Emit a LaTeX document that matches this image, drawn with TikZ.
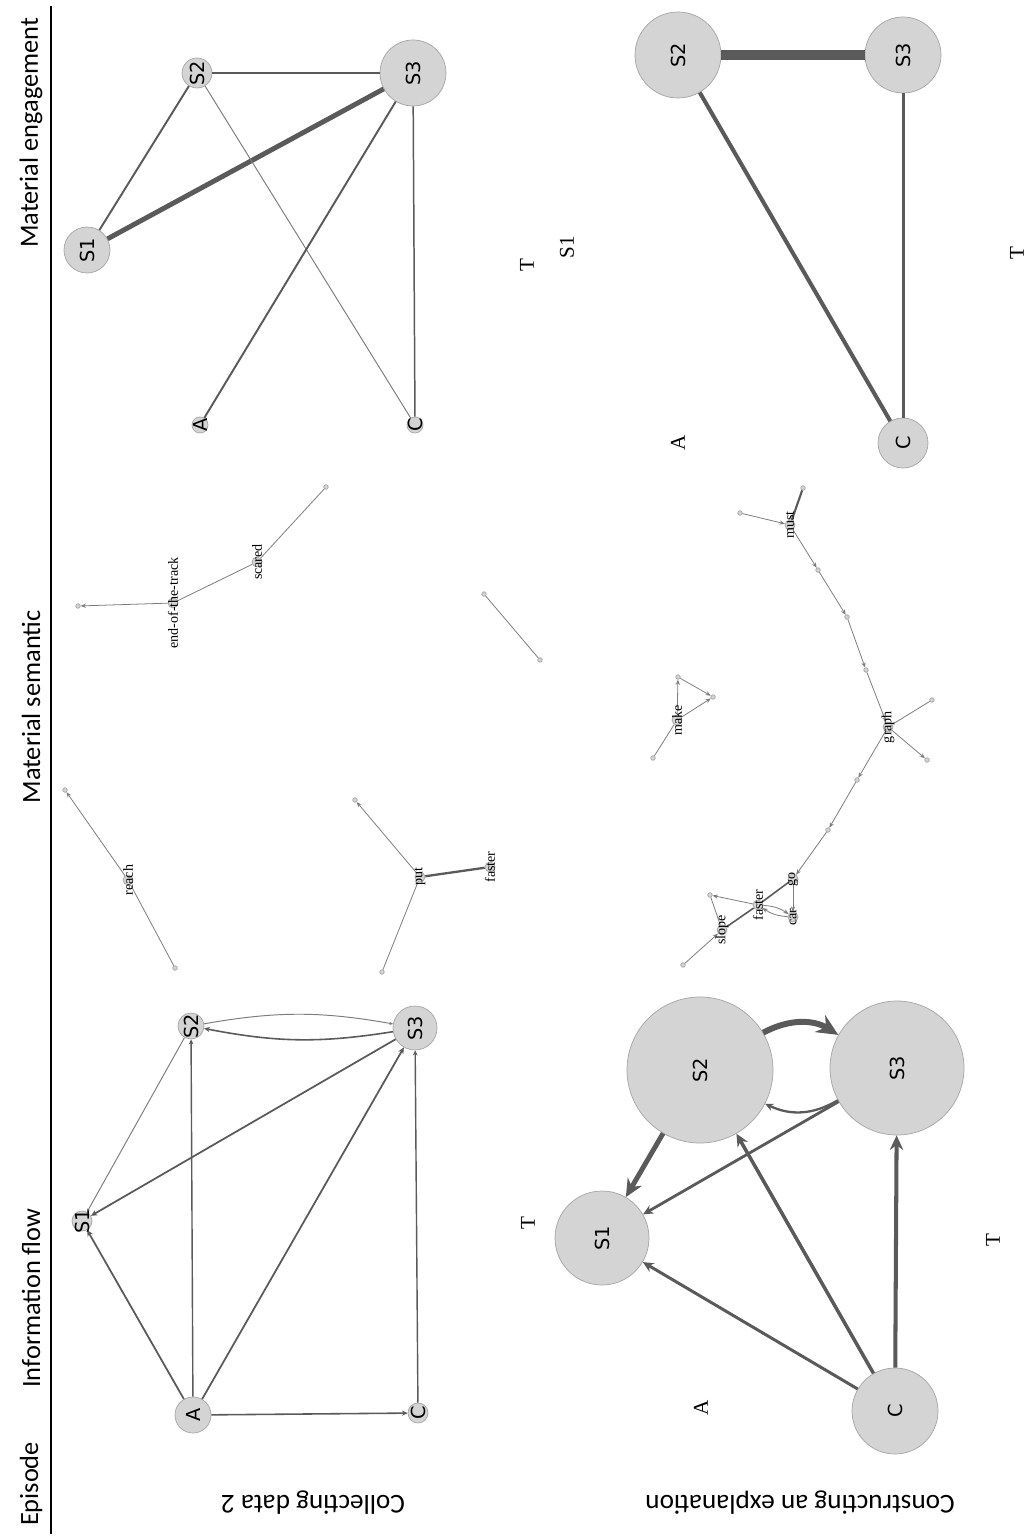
\documentclass[tikz,border=0pt]{standalone}
\usepackage{fontspec}
\setmainfont{Liberation Serif}
\newfontfamily\headfont{Carlito}
\newfontfamily\nodefont{DejaVu Sans}
\usetikzlibrary{arrows.meta}

\definecolor{nodefill}{RGB}{212,212,212}
\definecolor{nodeline}{RGB}{165,165,165}
\definecolor{edgecol}{RGB}{90,90,90}
\definecolor{thincol}{RGB}{125,125,125}

\tikzset{
	person/.style={circle, draw=nodeline, fill=nodefill, inner sep=0pt, minimum size={2*#1*0.02cm}},
	plabel/.style={rotate=90, inner sep=0pt, font=\nodefont\fontsize{11}{11}\selectfont},
	actor/.style={rotate=90, inner sep=1pt, font=\fontsize{12}{12}\selectfont},
	word/.style={circle, draw=nodeline, fill=nodefill, inner sep=0pt, minimum size=0.2cm},
	wlabel/.style={rotate=90, inner sep=0pt, font=\fontsize{8}{8}\selectfont},
	dot/.style={circle, draw=nodeline, fill=nodefill, inner sep=0pt, minimum size=0.09cm},
	flow/.style={draw=edgecol, line width=#1, -{Stealth[length=0pt 3.6, width=0pt 3.3]}},
	tie/.style={draw=edgecol, line width=#1},
	link/.style={draw=thincol, line width=0.45pt, -{Stealth[length=3pt, width=2.4pt]}},
	plain/.style={draw=thincol, line width=0.45pt},
	head/.style={rotate=90, inner sep=0pt, font=\headfont\fontsize{15}{15}\selectfont},
	episode/.style={rotate=180, inner sep=0pt, font=\headfont\fontsize{15.5}{15.5}\selectfont}
}

\begin{document}
\begin{tikzpicture}[x=0.02cm, y=-0.02cm]
	\useasboundingbox[fill=white] (0,0) rectangle (1033,1540);

	%Header column
	\draw[line width=1pt] (51,6) coordinate (rtop) -- (51,1534) coordinate (rbot);
	\node[head] (hep) at (31,1484) {Episode};
	\node[head] (hif) at (31,1298) {Information flow};
	\node[head] (hms) at (31,707) {Material semantic};
	\node[head] (hme) at (31,133) {Material engagement};

	%Episode labels
	\node[episode] (ecol) at (313,1503) {Collecting data 2};
	\node[episode] (econ) at (800,1503) {Constructing an explanation};

	%Information flow, collecting data 2
	\node[person=10] (ia-s1) at (82,1221) {};
	\node[person=13] (ia-s2) at (191,1026) {};
	\node[person=22] (ia-s3) at (415,1028) {};
	\node[person=18] (ia-a) at (193,1415) {};
	\node[person=10] (ia-c) at (418,1413) {};
	\draw[flow=0.55pt, draw=thincol] (ia-s2) -- (ia-s1);
	\draw[flow=1pt] (ia-s3) -- (ia-s1);
	\draw[flow=1pt] (ia-a) -- (ia-s1);
	\draw[flow=0.8pt] (ia-a) -- (ia-s2);
	\draw[flow=1pt] (ia-a) -- (ia-s3);
	\draw[flow=0.8pt] (ia-c) -- (ia-s3);
	\draw[flow=0.9pt] (ia-a) -- (ia-c);
	\draw[flow=0.55pt, draw=thincol] (ia-s2) to[bend left=10] (ia-s3);
	\draw[flow=0.9pt] (ia-s3) to[bend left=10] (ia-s2);
	\node[plabel] (ia-s1t) at (ia-s1) {S1};
	\node[plabel] (ia-s2t) at (ia-s2) {S2};
	\node[plabel] (ia-s3t) at (ia-s3) {S3};
	\node[plabel] (ia-at) at (ia-a) {A};
	\node[plabel] (ia-ct) at (ia-c) {C};

	%Information flow, constructing an explanation
	\node[person=47] (ib-s1) at (602,1238) {};
	\node[person=73] (ib-s2) at (700,1070) {};
	\node[person=67] (ib-s3) at (897,1068) {};
	\node[person=43] (ib-c) at (895,1411) {};
	\draw[flow=3.4pt] (ib-s2) to[bend left=30] (ib-s3);
	\draw[flow=1.3pt] (ib-s3) to[bend left=28] (ib-s2);
	\draw[flow=2.8pt] (ib-s2) -- (ib-s1);
	\draw[flow=1.6pt] (ib-s3) -- (ib-s1);
	\draw[flow=1.7pt] (ib-c) -- (ib-s1);
	\draw[flow=2pt] (ib-c) -- (ib-s2);
	\draw[flow=2.3pt] (ib-c) -- (ib-s3);
	\node[plabel] (ib-s1t) at (ib-s1) {S1};
	\node[plabel] (ib-s2t) at (ib-s2) {S2};
	\node[plabel] (ib-s3t) at (ib-s3) {S3};
	\node[plabel] (ib-ct) at (ib-c) {C};
	\node[actor] (ib-t1) at (528,1223) {T};
	\node[actor] (ib-t2) at (993,1240) {T};
	\node[actor] (ib-a) at (701,1408) {A};

	%Material semantic, collecting data 2
	\node[word] (sa-eot) at (173,603) {};
	\node[dot] (sa-e1) at (78,606) {};
	\node[word] (sa-scd) at (257,562) {};
	\node[dot] (sa-e2) at (326,487) {};
	\node[dot] (sa-i1) at (484,594) {};
	\node[dot] (sa-i2) at (540,660) {};
	\node[word] (sa-rch) at (128,880) {};
	\node[dot] (sa-r1) at (65,790) {};
	\node[dot] (sa-r2) at (175,968) {};
	\node[word] (sa-put) at (420,877) {};
	\node[dot] (sa-p1) at (355,800) {};
	\node[dot] (sa-p2) at (382,972) {};
	\node[word] (sa-fst) at (490,867) {};
	\draw[link] (sa-eot) -- (sa-e1);
	\draw[plain] (sa-eot) -- (sa-scd);
	\draw[plain] (sa-scd) -- (sa-e2);
	\draw[plain] (sa-i1) -- (sa-i2);
	\draw[link] (sa-rch) -- (sa-r1);
	\draw[plain] (sa-rch) -- (sa-r2);
	\draw[link] (sa-put) -- (sa-p1);
	\draw[plain] (sa-put) -- (sa-p2);
	\draw[tie=1.3pt] (sa-put) -- (sa-fst);
	\node[wlabel] (sa-eott) at (sa-eot) {end-of-the-track};
	\node[wlabel] (sa-scdt) at (sa-scd) {scared};
	\node[wlabel] (sa-rcht) at (sa-rch) {reach};
	\node[wlabel] (sa-putt) at (sa-put) {put};
	\node[wlabel] (sa-fstt) at (sa-fst) {faster};

	%Material semantic, constructing an explanation
	\node[word] (sb-must) at (790,525) {};
	\node[dot] (sb-m1) at (740,513) {};
	\node[dot] (sb-m2) at (803,488) {};
	\node[dot] (sb-c1) at (818,570) {};
	\node[dot] (sb-c2) at (847,617) {};
	\node[dot] (sb-c3) at (866,670) {};
	\node[word] (sb-grp) at (888,727) {};
	\node[dot] (sb-g1) at (932,700) {};
	\node[dot] (sb-g2) at (927,760) {};
	\node[dot] (sb-d1) at (857,780) {};
	\node[dot] (sb-d2) at (828,830) {};
	\node[word] (sb-go) at (793,879) {};
	\node[word] (sb-car) at (793,917) {};
	\node[word] (sb-fst) at (758,905) {};
	\node[word] (sb-slp) at (722,930) {};
	\node[dot] (sb-s1) at (710,895) {};
	\node[dot] (sb-s2) at (683,965) {};
	\node[word] (sb-make) at (677,720) {};
	\node[dot] (sb-k1) at (678,677) {};
	\node[dot] (sb-k2) at (713,697) {};
	\node[dot] (sb-k3) at (653,758) {};
	\draw[link] (sb-m1) -- (sb-must);
	\draw[tie=1.2pt] (sb-must) -- (sb-m2);
	\draw[link] (sb-must) -- (sb-c1);
	\draw[link] (sb-c1) -- (sb-c2);
	\draw[link] (sb-c2) -- (sb-c3);
	\draw[link] (sb-c3) -- (sb-grp);
	\draw[plain] (sb-grp) -- (sb-g1);
	\draw[link] (sb-grp) -- (sb-g2);
	\draw[link] (sb-grp) -- (sb-d1);
	\draw[link] (sb-d1) -- (sb-d2);
	\draw[link] (sb-d2) -- (sb-go);
	\draw[tie=0.9pt] (sb-fst) -- (sb-go);
	\draw[link] (sb-go) -- (sb-car);
	\draw[link] (sb-fst) to[bend left=15] (sb-car);
	\draw[link] (sb-car) to[bend left=15] (sb-fst);
	\draw[tie=0.9pt] (sb-slp) -- (sb-fst);
	\draw[link] (sb-fst) -- (sb-s1);
	\draw[plain] (sb-s1) -- (sb-slp);
	\draw[link] (sb-s2) -- (sb-slp);
	\draw[link] (sb-make) -- (sb-k1);
	\draw[link] (sb-k1) -- (sb-k2);
	\draw[link] (sb-make) -- (sb-k2);
	\draw[plain] (sb-make) -- (sb-k3);
	\node[wlabel] (sb-mustt) at (sb-must) {must};
	\node[wlabel] (sb-grpt) at (sb-grp) {graph};
	\node[wlabel] (sb-got) at (sb-go) {go};
	\node[wlabel] (sb-cart) at (sb-car) {car};
	\node[wlabel] (sb-fstt) at (sb-fst) {faster};
	\node[wlabel] (sb-slpt) at (sb-slp) {slope};
	\node[wlabel] (sb-maket) at (sb-make) {make};

	%Material engagement, collecting data 2
	\node[person=23] (ea-s1) at (87,250) {};
	\node[person=15] (ea-s2) at (197,73) {};
	\node[person=33] (ea-s3) at (413,73) {};
	\node[person=8] (ea-a) at (200,425) {};
	\node[person=8] (ea-c) at (415,425) {};
	\draw[tie=1.1pt] (ea-s1) -- (ea-s2);
	\draw[tie=2.8pt] (ea-s1) -- (ea-s3);
	\draw[tie=0.85pt] (ea-s2) -- (ea-s3);
	\draw[tie=0.55pt, draw=thincol] (ea-s2) -- (ea-c);
	\draw[tie=1.1pt] (ea-s3) -- (ea-a);
	\draw[tie=0.85pt] (ea-s3) -- (ea-c);
	\node[plabel] (ea-s1t) at (ea-s1) {S1};
	\node[plabel] (ea-s2t) at (ea-s2) {S2};
	\node[plabel] (ea-s3t) at (ea-s3) {S3};
	\node[plabel] (ea-at) at (ea-a) {A};
	\node[plabel] (ea-ct) at (ea-c) {C};

	%Material engagement, constructing an explanation
	\node[person=43] (eb-s2) at (678,55) {};
	\node[person=38] (eb-s3) at (903,55) {};
	\node[person=25] (eb-c) at (903,443) {};
	\draw[tie=5.7pt] (eb-s2) -- (eb-s3);
	\draw[tie=2.3pt] (eb-s2) -- (eb-c);
	\draw[tie=1.7pt] (eb-s3) -- (eb-c);
	\node[plabel] (eb-s2t) at (eb-s2) {S2};
	\node[plabel] (eb-s3t) at (eb-s3) {S3};
	\node[plabel] (eb-ct) at (eb-c) {C};
	\node[actor] (eb-t1) at (527,265) {T};
	\node[actor] (eb-s1) at (567,247) {S1};
	\node[actor] (eb-a) at (678,443) {A};
	\node[actor] (eb-t2) at (1017,253) {T};
\end{tikzpicture}
\end{document}
